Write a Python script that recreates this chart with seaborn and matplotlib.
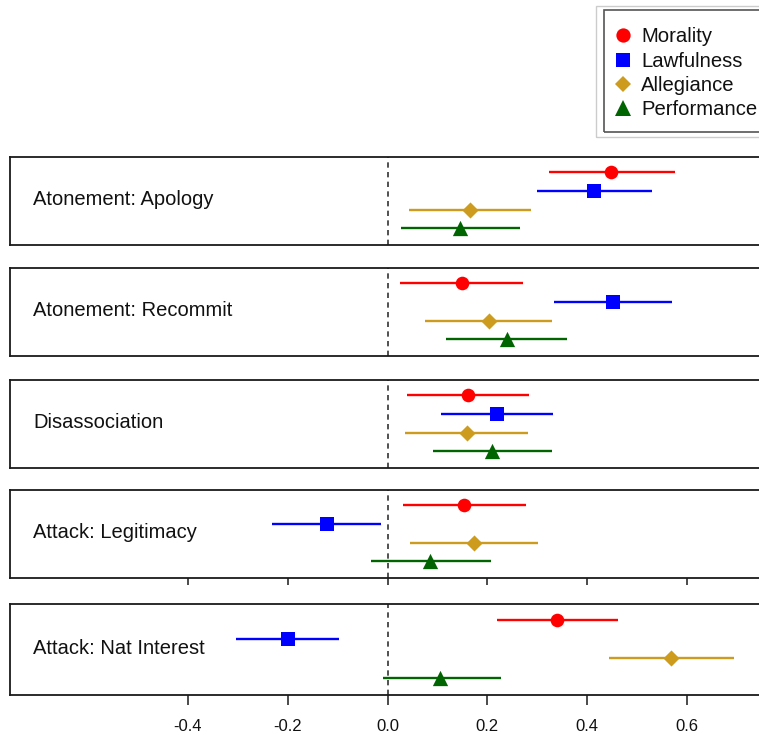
import matplotlib
matplotlib.use("Agg")
import matplotlib.pyplot as plt
from matplotlib.lines import Line2D
from matplotlib.patches import Rectangle
import seaborn as sns
import pandas as pd

# ---- data -------------------------------------------------------------
frames = ["Atonement: Apology", "Atonement: Recommit", "Disassociation",
          "Attack: Legitimacy", "Attack: Nat Interest"]
measures = ["Morality", "Lawfulness", "Allegiance", "Performance"]

morality_est = [0.448, 0.149, 0.162, 0.154, 0.339]
morality_lo = [0.323, 0.026, 0.040, 0.032, 0.219]
morality_hi = [0.575, 0.272, 0.283, 0.277, 0.461]

lawfulness_est = [0.414, 0.452, 0.220, -0.122, -0.200]
lawfulness_lo = [0.299, 0.334, 0.108, -0.231, -0.304]
lawfulness_hi = [0.529, 0.570, 0.331, -0.013, -0.098]

allegiance_est = [0.165, 0.203, 0.159, 0.173, 0.568]
allegiance_lo = [0.044, 0.076, 0.036, 0.046, 0.443]
allegiance_hi = [0.288, 0.329, 0.281, 0.301, 0.694]

performance_est = [0.146, 0.239, 0.210, 0.085, 0.106]
performance_lo = [0.027, 0.118, 0.091, -0.034, -0.010]
performance_hi = [0.266, 0.360, 0.329, 0.207, 0.227]

x_ticks = [-0.4, -0.2, 0.0, 0.2, 0.4, 0.6]

# ---- styling ----------------------------------------------------------
colors = {"Morality": "#FF0000", "Lawfulness": "#0000FF",
          "Allegiance": "#CD9B1D", "Performance": "#006400"}
markers = {"Morality": "o", "Lawfulness": "s",
           "Allegiance": "D", "Performance": "^"}
msizes = {"Morality": 9.8, "Lawfulness": 9.4,
          "Allegiance": 8.2, "Performance": 11.0}
rows = {"Morality": 4, "Lawfulness": 3, "Allegiance": 2, "Performance": 1}

est = {"Morality": morality_est, "Lawfulness": lawfulness_est,
       "Allegiance": allegiance_est, "Performance": performance_est}
lo = {"Morality": morality_lo, "Lawfulness": lawfulness_lo,
      "Allegiance": allegiance_lo, "Performance": performance_lo}
hi = {"Morality": morality_hi, "Lawfulness": lawfulness_hi,
      "Allegiance": allegiance_hi, "Performance": performance_hi}

records = []
for m in measures:
    for i, f in enumerate(frames):
        records.append({"frame": f, "measure": m, "row": rows[m],
                        "est": est[m][i], "lo": lo[m][i], "hi": hi[m][i]})
df = pd.DataFrame(records)

sns.set_theme(style="white")
plt.rcParams["font.family"] = ["Liberation Sans", "DejaVu Sans"]

W, H = 759, 739
fig = plt.figure(figsize=(W / 100, H / 100), dpi=100)

# panel extents in pixels (top, bottom)
panels_px = [(157, 245), (268, 356), (380, 468), (490, 578), (604, 695)]
left_px, right_px = 10, 762
zero_px, px_per_unit = 387.5, 499.5
xlim = ((left_px - zero_px) / px_per_unit, (right_px - zero_px) / px_per_unit)

for i, (frame, (top, bot)) in enumerate(zip(frames, panels_px)):
    ax = fig.add_axes([left_px / W, 1 - bot / H,
                       (right_px - left_px) / W, (bot - top) / H])
    sub = df[df["frame"] == frame]
    ax.axvline(0, color="#333333", lw=1.2, ls=(0, (3.2, 2.6)), zorder=1)
    for m in measures:
        r = sub[sub["measure"] == m]
        ax.hlines(r["row"], r["lo"], r["hi"], color=colors[m], lw=1.7, zorder=2)
        sns.scatterplot(data=r, x="est", y="row", marker=markers[m],
                        color=colors[m], s=msizes[m] ** 2, linewidth=0,
                        ax=ax, zorder=3, legend=False)
    ax.set_xlim(*xlim)
    ax.set_ylim(0.1, 4.82)
    ax.set_xlabel("")
    ax.set_ylabel("")
    ax.set_yticks([])
    for s in ax.spines.values():
        s.set_color("#1a1a1a")
        s.set_linewidth(1.3)
    ax.text(0.0306, 0.45, frame, transform=ax.transAxes, fontsize=14.5,
            ha="left", va="baseline", color="#111111")
    if i >= 3:
        ax.set_xticks(x_ticks)
        ax.tick_params(axis="x", direction="out", length=7.5, width=1.1,
                       color="#1a1a1a", bottom=True, pad=10, labelsize=12,
                       labelcolor="#111111")
        if i == 3:
            ax.set_xticklabels([])
            ax.tick_params(axis="x", length=5)
        else:
            ax.set_xticklabels([f"{t:.1f}" for t in x_ticks])
    else:
        ax.set_xticks([])

# legend: entries without a frame, boxes drawn around them
handles = [Line2D([], [], ls="none", marker=markers[m], color=colors[m],
                  markersize=msizes[m] * 1.05, markeredgewidth=0)
           for m in measures]
leg = fig.legend(handles, measures, loc="upper left",
                 bbox_to_anchor=(617 / W, 1 - 27.5 / H), borderaxespad=0,
                 fontsize=14.6, frameon=False, borderpad=0,
                 handlelength=0.6, handletextpad=0.6, labelspacing=0.26)
for t in leg.get_texts():
    t.set_color("#111111")
fig.add_artist(Rectangle((603.5 / W, 1 - 131.5 / H), 200 / W, 121.5 / H,
                         transform=fig.transFigure, fill=False,
                         edgecolor="#555555", lw=1.2))
fig.add_artist(Rectangle((596 / W, 1 - 137 / H), 200 / W, 131 / H,
                         transform=fig.transFigure, fill=False,
                         edgecolor="#cccccc", lw=1.0))

fig.savefig("out.png", dpi=100)
